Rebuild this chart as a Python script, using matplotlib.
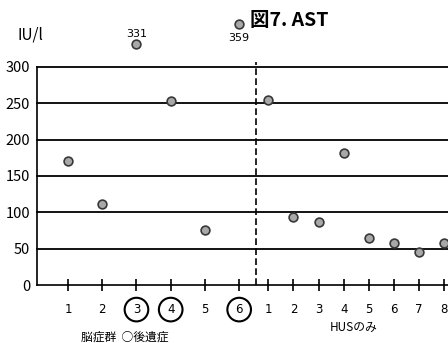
import matplotlib
matplotlib.use('Agg')
import matplotlib.pyplot as plt
import numpy as np

plt.rcParams['font.family'] = ['Noto Sans CJK JP', 'DejaVu Sans']

# AST values (IU/l)
enceph_labels = ['1', '2', '3', '4', '5', '6']
enceph_ast = [170, 111, 331, 253, 76, 359]
sequela = ['3', '4', '6']          # circled = 後遺症
hus_labels = ['1', '2', '3', '4', '5', '6', '7', '8']
hus_ast = [254, 93, 87, 181, 64, 58, 46, 58]
yticks = [0, 50, 100, 150, 200, 250, 300]

fig = plt.figure(figsize=(4.48, 3.43), dpi=100)
ax = fig.add_axes([0.083, 0.169, 0.917, 0.636])

enc_x = np.arange(1, len(enceph_ast) + 1)
hus_x = 6.85 + 0.735 * np.arange(len(hus_ast))

for y in yticks[1:]:
    ax.axhline(y, color='black', lw=1.3, zorder=1, clip_on=False)

ax.plot(enc_x, enceph_ast, 'o', ms=6.3, mfc='#a8a8a8', mec='#383838', mew=1.2,
        clip_on=False, zorder=3)
ax.plot(hus_x, hus_ast, 'o', ms=6.3, mfc='#a8a8a8', mec='#383838', mew=1.2,
        clip_on=False, zorder=3)

ax.plot([6.5, 6.5], [0, 307], ls=(0, (4, 2)), color='black', lw=1.2, clip_on=False)

# values above the axis top
ax.text(enc_x[2], enceph_ast[2] + 7, str(enceph_ast[2]), ha='center', va='bottom',
        fontsize=8, family='DejaVu Sans')
ax.text(enc_x[5], enceph_ast[5] - 12, str(enceph_ast[5]), ha='center', va='top',
        fontsize=8, family='DejaVu Sans')

ax.set_xlim(0.1, 12.1)
ax.set_ylim(0, 300)
ax.set_yticks(yticks)
ax.tick_params(axis='y', length=0, labelsize=10.5, pad=5)
ax.set_xticks(list(enc_x) + list(hus_x))
ax.set_xticklabels(enceph_labels + hus_labels, fontsize=8.5, family='DejaVu Sans')
ax.tick_params(axis='x', direction='inout', length=8, width=1.2, pad=9)
for lab, t in zip(ax.get_xticklabels()[:6], enceph_labels):
    if t in sequela:
        lab.set_bbox(dict(boxstyle='circle,pad=0.45', fc='none', ec='black', lw=1.5))

for s in ['top', 'right']:
    ax.spines[s].set_visible(False)
ax.spines['left'].set_linewidth(1.2)
ax.spines['bottom'].set_linewidth(1.2)

fig.text(0.645, 0.94, '図7. AST', ha='center', va='center', fontsize=14, fontweight='bold')
fig.text(0.067, 0.898, 'IU/l', ha='center', va='center', fontsize=11)
fig.text(0.279, 0.017, '脳症群  ○後遺症', ha='center', va='center', fontsize=8.5)
fig.text(0.79, 0.044, 'HUSのみ', ha='center', va='center', fontsize=8.5)

fig.savefig('out.png', dpi=100)
